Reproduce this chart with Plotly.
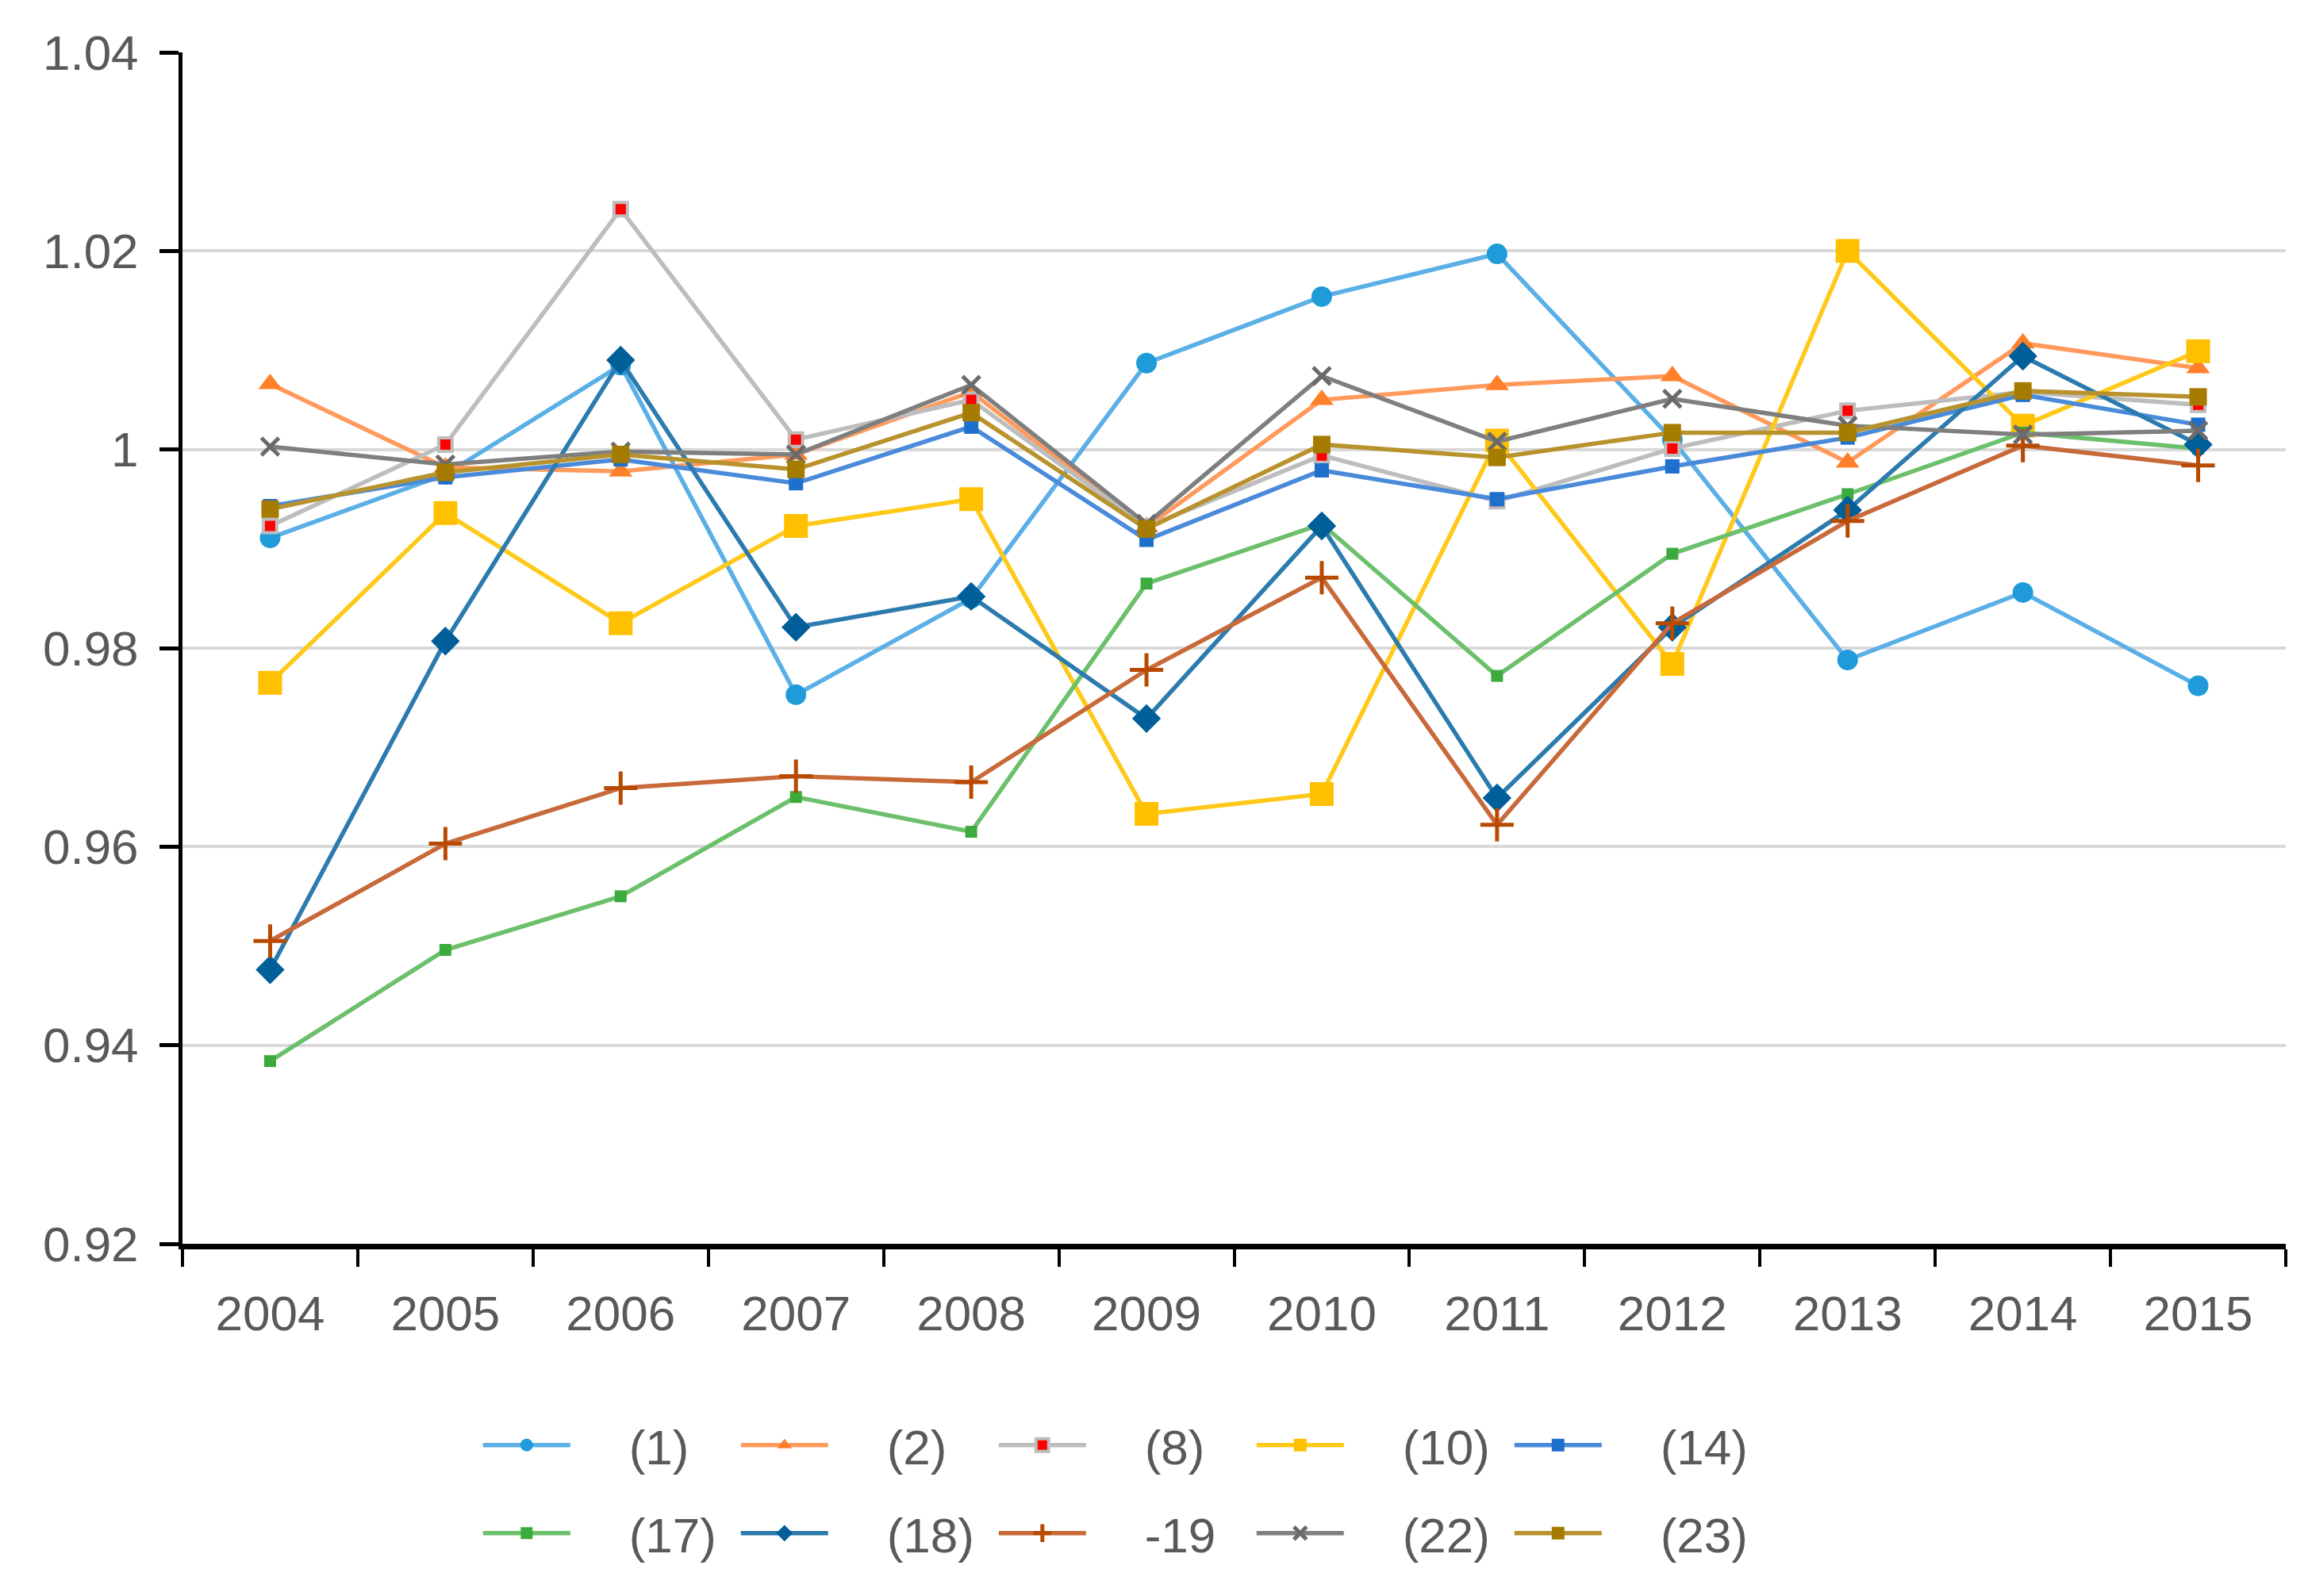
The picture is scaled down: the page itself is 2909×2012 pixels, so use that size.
import plotly.graph_objects as go

years = ["2004", "2005", "2006", "2007", "2008", "2009", "2010", "2011", "2012", "2013", "2014", "2015"]

s1 = [0.9911, 0.9975, 1.0085, 0.9753, 0.9850, 1.0087, 1.0154, 1.0197, 1.0010, 0.9788, 0.9856, 0.9762]
s2 = [1.0066, 0.9982, 0.9978, 0.9995, 1.0058, 0.9922, 1.0050, 1.0065, 1.0074, 0.9987, 1.0107, 1.0082]
s8 = [0.9923, 1.0005, 1.0242, 1.0010, 1.0050, 0.9922, 0.9994, 0.9948, 1.0001, 1.0039, 1.0058, 1.0045]
s10 = [0.9765, 0.9936, 0.9825, 0.9923, 0.9950, 0.9633, 0.9653, 1.0009, 0.9784, 1.0200, 1.0024, 1.0099]
s14 = [0.9943, 0.9972, 0.9990, 0.9966, 1.0023, 0.9909, 0.9979, 0.9950, 0.9983, 1.0012, 1.0055, 1.0025]
s17 = [0.9384, 0.9496, 0.9550, 0.9650, 0.9615, 0.9865, 0.9925, 0.9772, 0.9895, 0.9955, 1.0017, 1.0001]
s18 = [0.9476, 0.9807, 1.0090, 0.9821, 0.9852, 0.9729, 0.9923, 0.9649, 0.9821, 0.9939, 1.0094, 1.0005]
s19 = [0.9505, 0.9603, 0.9659, 0.9671, 0.9665, 0.9778, 0.9871, 0.9622, 0.9825, 0.9928, 1.0004, 0.9984]
s22 = [1.0003, 0.9985, 0.9998, 0.9995, 1.0065, 0.9925, 1.0074, 1.0008, 1.0051, 1.0024, 1.0015, 1.0019]
s23 = [0.9940, 0.9977, 0.9995, 0.9980, 1.0037, 0.9920, 1.0005, 0.9992, 1.0017, 1.0017, 1.0059, 1.0053]

names = ["(1)", "(2)", "(8)", "(10)", "(14)", "(17)", "(18)", "-19", "(22)", "(23)"]

ytickvals = [0.92, 0.94, 0.96, 0.98, 1.0, 1.02, 1.04]
yticktext = ["0.92", "0.94", "0.96", "0.98", "1", "1.02", "1.04"]

styles = [
    dict(lc="#5AAFE6", mc="#1F9BDA", sym="circle", size=26, mlc="#1F9BDA", mlw=0),
    dict(lc="#FF9A5C", mc="#FF7F2A", sym="triangle-up", size=26, mlc="#FF7F2A", mlw=0),
    dict(lc="#BDBDBD", mc="#FF0000", sym="square", size=17, mlc="#BDBDBD", mlw=4),
    dict(lc="#FFC91A", mc="#FFC000", sym="square", size=30, mlc="#FFC000", mlw=0),
    dict(lc="#4A8ADB", mc="#1F6FCC", sym="square", size=18, mlc="#1F6FCC", mlw=0),
    dict(lc="#6CC06C", mc="#3DAA3D", sym="square", size=15, mlc="#3DAA3D", mlw=0),
    dict(lc="#2C7BAE", mc="#005E98", sym="diamond", size=28, mlc="#005E98", mlw=0),
    dict(lc="#C8693A", mc="#B84A00", sym="cross-thin", size=30, mlc="#B84A00", mlw=5),
    dict(lc="#7F7F7F", mc="#6A6A6A", sym="x-thin", size=22, mlc="#6A6A6A", mlw=5),
    dict(lc="#B8922D", mc="#A67C00", sym="square", size=22, mlc="#A67C00", mlw=0),
]

series = [s1, s2, s8, s10, s14, s17, s18, s19, s22, s23]

pad = "\u00a0" * 4

fig = go.Figure()
for i, (nm, vals, st) in enumerate(zip(names, series, styles)):
    fig.add_trace(go.Scatter(
        x=years, y=vals, name=pad + nm, mode="lines+markers",
        line=dict(color=st["lc"], width=5.5),
        marker=dict(symbol=st["sym"], size=st["size"], color=st["mc"],
                    line=dict(color=st["mlc"], width=st["mlw"])),
        legend="legend" if i < 5 else "legend2",
    ))

font_family = "Liberation Sans, Arial, sans-serif"
legend_common = dict(
    orientation="h", xanchor="left", yanchor="middle",
    font=dict(size=62, color="#595959", family=font_family),
    itemwidth=110, entrywidth=200, entrywidthmode="pixels",
    bgcolor="rgba(0,0,0,0)",
)

fig.update_layout(
    width=2909, height=2012,
    paper_bgcolor="white", plot_bgcolor="white",
    margin=dict(l=222, r=36, t=58, b=452),
    font=dict(family=font_family, size=62, color="#595959"),
    showlegend=True,
    legend=dict(x=0.141, y=-0.169, **legend_common),
    legend2=dict(x=0.141, y=-0.243, **legend_common),
    xaxis=dict(
        type="category", range=[-0.5, 11.5],
        showline=True, linecolor="black", linewidth=7,
        ticks="outside", tickson="boundaries", ticklen=22, tickwidth=4, tickcolor="black",
        showgrid=False, ticklabelstandoff=28,
        tickfont=dict(size=62, color="#595959"),
    ),
    yaxis=dict(
        range=[0.92, 1.04], tickvals=ytickvals, ticktext=yticktext,
        showline=True, linecolor="black", linewidth=5,
        ticks="outside", ticklen=24, tickwidth=5, tickcolor="black",
        showgrid=True, gridcolor="#D9D9D9", gridwidth=4,
        zeroline=False, ticklabelstandoff=14,
        tickfont=dict(size=62, color="#595959"),
    ),
)

fig.write_html("out.html")
